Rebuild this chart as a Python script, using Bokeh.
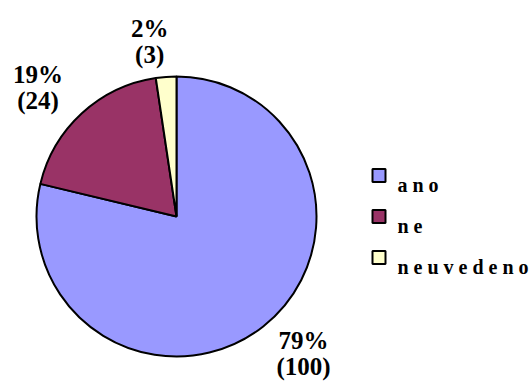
import numpy as np
from bokeh.plotting import figure
from bokeh.models import Range1d, ColumnDataSource
from bokeh.core.properties import value
from bokeh.embed import file_html
from bokeh.resources import INLINE

categories = ["a n o", "n e", "n e u v e d e n o"]
counts = [100, 24, 3]
percent_labels = ["79%", "19%", "2%"]
count_labels = ["(100)", "(24)", "(3)"]
colors = ["#9999FF", "#993366", "#FFFFCC"]

W, H = 530, 385
cx, cy, R = 176, H - 216, 140

total = float(sum(counts))
fr = np.array(counts) / total
ang = fr * 2 * np.pi
# slices go clockwise from 12 o'clock
ends = np.pi / 2 - np.concatenate([[0], np.cumsum(ang)[:-1]])
starts = ends - ang
mids = (starts + ends) / 2

p = figure(width=W, height=H, output_backend="svg", toolbar_location=None,
           x_range=Range1d(0, W), y_range=Range1d(0, H),
           x_axis_type=None, y_axis_type=None, min_border=0)
p.outline_line_color = None
p.grid.visible = False
p.background_fill_color = "white"
p.border_fill_color = "white"

src = ColumnDataSource(dict(start=starts, end=ends, color=colors))
p.wedge(x=cx, y=cy, radius=R, radius_units="screen", start_angle="start", end_angle="end",
        fill_color="color", line_color="black", line_width=2, source=src)

# outside-end data labels
lx = cx + 205 * np.cos(mids) - 120 * np.maximum(np.sin(mids) - 0.9, 0)
ly = cy + 175 * np.sin(mids)
p.text(x=lx, y=ly + 13, text=percent_labels, text_font=value("Liberation Serif"), text_font_style="bold",
       text_font_size="25px", text_align="center", text_baseline="middle", text_color="black")
p.text(x=lx, y=ly - 13, text=count_labels, text_font=value("Liberation Serif"), text_font_style="bold",
       text_font_size="25px", text_align="center", text_baseline="middle", text_color="black")

# legend
n = len(categories)
leg_y = 210 - 41 * np.arange(n)
p.rect(x=[378.5] * n, y=leg_y, width=13, height=13, width_units="screen", height_units="screen",
       fill_color=colors, line_color="black", line_width=2)
p.text(x=[397] * n, y=leg_y - 9, text=categories, text_font=value("Liberation Serif"), text_font_style="bold",
       text_font_size="20px", text_align="left", text_baseline="alphabetic", text_color="black")

open("out.html", "w").write(file_html(p, INLINE))
